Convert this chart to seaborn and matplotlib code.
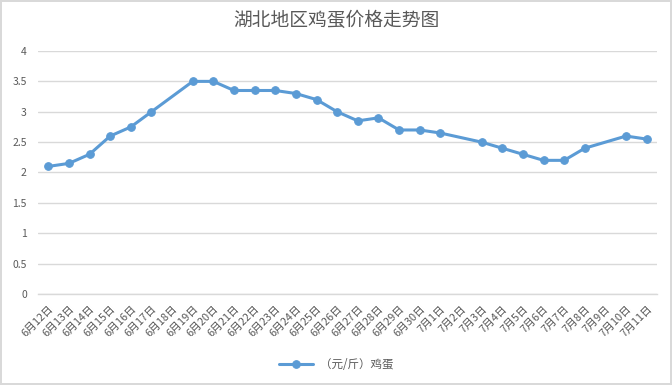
import numpy as np
import pandas as pd
import matplotlib
matplotlib.use("Agg")
import matplotlib.pyplot as plt
import seaborn as sb

# Données (None = jour sans relevé)
dates = ["6月12日", "6月13日", "6月14日", "6月15日", "6月16日", "6月17日", "6月18日",
         "6月19日", "6月20日", "6月21日", "6月22日", "6月23日", "6月24日", "6月25日",
         "6月26日", "6月27日", "6月28日", "6月29日", "6月30日", "7月1日", "7月2日",
         "7月3日", "7月4日", "7月5日", "7月6日", "7月7日", "7月8日", "7月9日",
         "7月10日", "7月11日"]
prix = [2.10, 2.15, 2.30, 2.60, 2.75, 3.00, None,
        3.50, 3.50, 3.35, 3.35, 3.35, 3.30, 3.20,
        3.00, 2.85, 2.90, 2.70, 2.70, 2.65, None,
        2.50, 2.40, 2.30, 2.20, 2.20, 2.40, None,
        2.60, 2.55]
titre = "湖北地区鸡蛋价格走势图"
serie = "（元/斤）鸡蛋"
yticks = [0, 0.5, 1, 1.5, 2, 2.5, 3, 3.5, 4]

df = pd.DataFrame({"pos": np.arange(len(dates)), "prix": prix}).dropna()

sb.set_style("white")
plt.rcParams["font.family"] = ["Noto Sans CJK SC", "DejaVu Sans"]

gris = "#595959"
bleu = "#5B9BD5"
grille = "#D9D9D9"

fig = plt.figure(figsize=(6.72, 3.85), dpi=100, edgecolor=grille, linewidth=1.5)
ax = fig.add_axes([0.0565, 0.2364, 0.9212, 0.6311])

sb.lineplot(data=df, x="pos", y="prix", ax=ax, color=bleu, linewidth=2.2,
            marker="o", markersize=5.5, markeredgecolor=bleu, label=serie)

ax.set_xlim(-0.5, len(dates) - 0.5)
ax.set_ylim(0, 4)
ax.set_yticks(yticks)
ax.set_yticklabels([f"{v:g}" for v in yticks])
ax.set_xticks(np.arange(len(dates)))
ax.set_xticklabels(dates, rotation=45, ha="right", rotation_mode="anchor")
ax.set_xticks(np.arange(len(dates) + 1) - 0.5, minor=True)
ax.tick_params(axis="x", which="major", length=0, pad=7, labelsize=7.8, labelcolor=gris)
ax.tick_params(axis="x", which="minor", length=5, width=1, color=grille, direction="out")
ax.tick_params(axis="y", length=0, pad=8, labelsize=7.5, labelcolor=gris)
ax.grid(axis="y", color=grille, linewidth=1)
ax.set_axisbelow(True)
for s in ["left", "right", "top"]:
    ax.spines[s].set_visible(False)
ax.spines["bottom"].set_color(grille)
ax.spines["bottom"].set_linewidth(1)
ax.set_xlabel("")
ax.set_ylabel("")

fig.suptitle(titre, x=0.5, y=0.975, fontsize=13.5, color=gris)

ax.legend_.remove()
h, l = ax.get_legend_handles_labels()
fig.legend(h, l, loc="center", bbox_to_anchor=(0.5, 0.054), frameon=False,
           fontsize=8.3, labelcolor=gris, handlelength=3, handletextpad=0.6)

fig.savefig("out.png", dpi=100, edgecolor=fig.get_edgecolor())
